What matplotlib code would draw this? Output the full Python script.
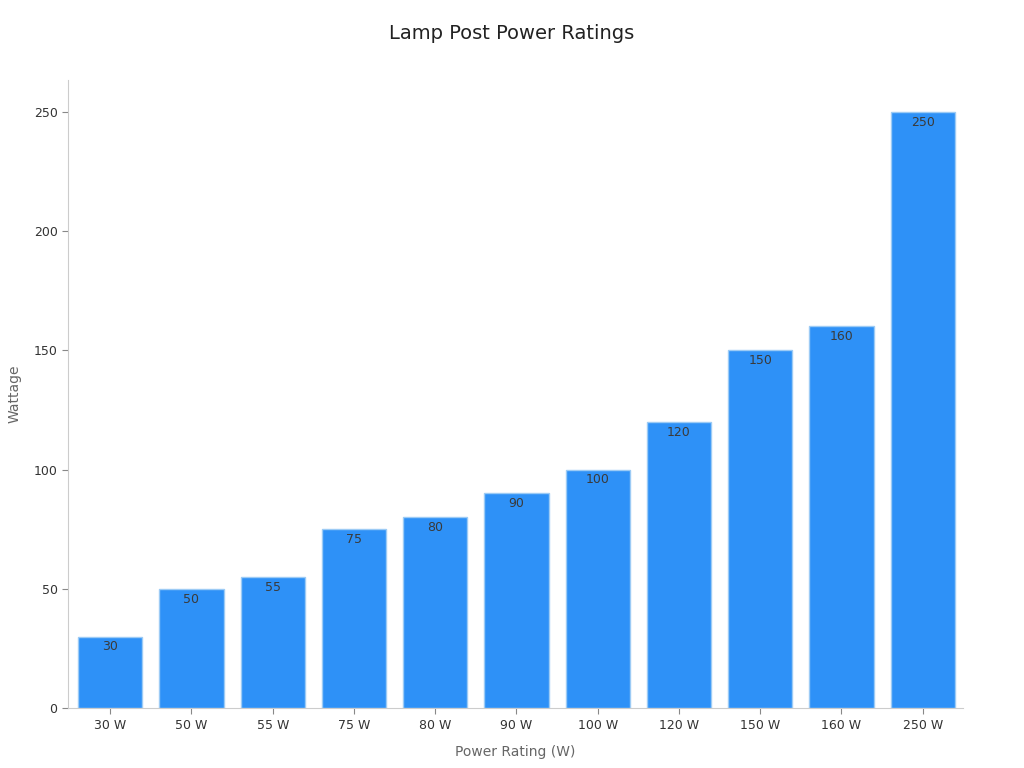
import matplotlib
matplotlib.use('Agg')
import matplotlib.pyplot as plt

categories = ['30 W', '50 W', '55 W', '75 W', '80 W', '90 W', '100 W', '120 W', '150 W', '160 W', '250 W']
wattage = [30, 50, 55, 75, 80, 90, 100, 120, 150, 160, 250]

plt.rcParams['font.family'] = ['DejaVu Sans']

fig = plt.figure(figsize=(10.24, 7.68), dpi=100)
ax = fig.add_axes([0.0664, 0.078, 0.8736, 0.818])

x = range(len(categories))
bars = ax.bar(x, wattage, width=0.79, color='#2E91F7', edgecolor='#9CCBF5', linewidth=1)

# value labels inside the bar tops
for xi, v in zip(x, wattage):
    ax.text(xi, v - 1.6, str(v), ha='center', va='top', fontsize=9, color='#3a3a3a')

ax.set_xticks(list(x))
ax.set_xticklabels(categories, fontsize=9, color='#333333')
ax.set_yticks([0, 50, 100, 150, 200, 250])
ax.tick_params(axis='y', labelsize=9, colors='#333333')
ax.tick_params(axis='both', color='#888888', length=4)
for lbl in ax.get_yticklabels():
    lbl.set_color('#333333')

ax.set_xlim(-0.52, 10.49)
ax.set_ylim(0, 263.4)

for s in ['top', 'right']:
    ax.spines[s].set_visible(False)
for s in ['left', 'bottom']:
    ax.spines[s].set_color('#cccccc')

ax.set_xlabel('Power Rating (W)', fontsize=10, color='#666666', labelpad=10)
ax.set_ylabel('Wattage', fontsize=10, color='#666666', labelpad=9)
fig.text(0.5, 0.957, 'Lamp Post Power Ratings', ha='center', va='center', fontsize=14, color='#222222')

plt.savefig('out.png', dpi=100)
plt.close()
